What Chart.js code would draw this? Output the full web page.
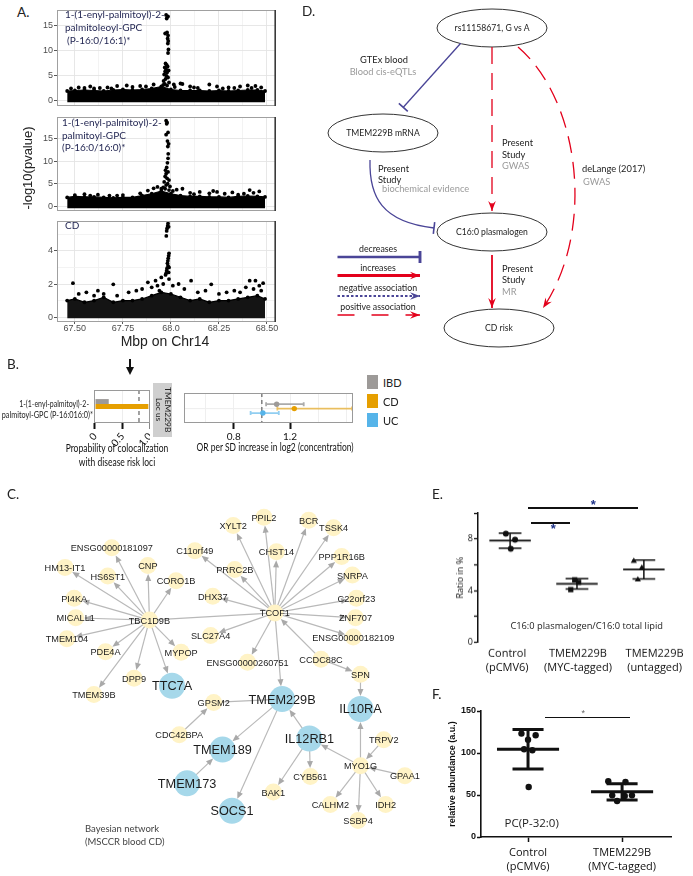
<!DOCTYPE html>
<html>
<head>
<meta charset="utf-8">
<title>TMEM229B / C16:0 plasmalogen</title>
<script src="https://cdn.jsdelivr.net/npm/chart.js@4.4.1/dist/chart.umd.min.js"></script>
<style>
  html, body { margin: 0; padding: 0; background: #fff; }
  #page { position: relative; width: 693px; height: 876px; overflow: hidden; background: #fff; }
  .box { position: absolute; }
  .t { position: absolute; white-space: pre; line-height: 1; }
  .hb { position: absolute; background: #111; }
</style>
</head>
<body>
<div id="page"></div>
<script>
/* ---------- A. regional association on Chr14 ---------- */
const aXMajor  = [67.5, 67.75, 68.0, 68.25, 68.5];
const aXLabels = ['67.50', '67.75', '68.0', '68.25', '68.50'];
const aBandX   = [67.46, 67.50, 67.55, 67.60, 67.65, 67.70, 67.75, 67.80, 67.85, 67.90, 67.95,
                  68.00, 68.05, 68.10, 68.15, 68.20, 68.25, 68.30, 68.35, 68.40, 68.45, 68.49];
// upper edge of the dense band of SNPs
const a1Band = [1.9, 2.0, 2.1, 2.0, 1.9, 2.1, 2.2, 2.1, 2.2, 2.4, 2.8, 2.2, 2.0, 2.0, 2.0, 1.9, 2.0, 1.9, 2.0, 2.1, 2.1, 1.9];
const a2Band = [2.0, 2.2, 2.1, 2.1, 2.0, 1.9, 2.0, 2.0, 2.4, 2.8, 3.4, 2.8, 2.4, 2.2, 2.2, 2.1, 2.1, 2.0, 2.2, 2.3, 2.2, 2.1];
const a3Band = [1.0, 1.1, 0.9, 1.0, 1.2, 0.9, 1.0, 1.0, 1.1, 1.3, 1.5, 1.4, 1.2, 1.0, 1.1, 0.9, 1.0, 1.0, 1.1, 1.2, 1.3, 1.1];
// SNPs standing out of the band
const a1Pts = [
  [67.48,2.4],[67.52,2.6],[67.55,2.5],[67.58,2.8],[67.63,2.5],[67.67,2.6],[67.72,2.9],[67.77,3.0],[67.80,2.7],[67.84,2.9],
  [67.87,2.8],[67.91,3.2],[68.02,2.7],[68.06,3.3],[68.10,2.8],[68.12,2.6],[68.14,2.5],[68.20,3.2],[68.24,2.8],[68.30,2.6],
  [68.33,2.5],[68.36,2.8],[68.40,3.0],[68.44,2.9],[68.47,2.6],[67.60,2.4],[67.69,2.4],[67.96,3.1],[68.27,2.4],[68.42,2.5],
  [67.975,17.1],[67.985,16.8],[67.978,16.4],[67.970,13.4],[67.980,13.6],[67.985,13.0],[67.983,12.4],[67.986,11.9],
  [67.984,11.4],[67.987,10.2],[67.985,9.5],[67.972,7.4],[67.978,7.1],[67.968,6.6],[67.983,6.8],[67.975,6.2],[67.970,5.8],
  [67.980,5.6],[67.988,6.0],[67.965,5.2],[67.977,4.9],[67.985,4.6],[67.972,4.3],[67.962,3.9],[67.990,3.6],[67.968,3.3],
  [67.980,3.0],[68.015,3.2],[68.05,3.4]
];
const a2Pts = [
  [67.50,2.5],[67.55,2.7],[67.62,2.6],[67.68,2.4],[67.75,2.5],[67.84,2.9],[67.88,3.5],[67.91,4.0],[67.93,4.3],[67.95,3.9],
  [68.01,3.4],[68.03,3.7],[68.06,3.9],[68.10,3.0],[68.15,3.2],[68.20,2.9],[68.22,3.4],[68.24,3.2],[68.28,2.8],[68.32,3.1],
  [68.38,2.8],[68.41,3.6],[68.43,3.0],[68.46,3.3],[67.58,2.4],[67.72,2.4],[68.12,2.7],[68.35,2.6],
  [67.975,18.9],[67.980,18.5],[67.978,18.2],[67.985,16.3],[67.975,15.8],[67.982,14.4],[67.988,13.8],[67.984,13.2],
  [67.986,11.6],[67.985,10.6],[67.982,9.6],[67.978,8.6],[67.972,8.0],[67.985,7.6],[67.975,7.2],[67.970,6.6],[67.980,6.2],
  [67.990,5.8],[67.965,5.4],[67.983,5.0],[67.975,4.7],[67.995,4.4],[67.960,4.2],[67.970,3.9],[67.990,3.6]
];
const a3Pts = [
  [67.49,2.05],[67.52,1.4],[67.56,1.5],[67.60,1.3],[67.62,1.6],[67.65,1.4],[67.70,1.98],[67.72,1.3],[67.78,1.5],[67.82,1.6],
  [67.85,1.7],[67.88,2.1],[67.90,1.8],[67.92,2.2],[67.93,1.9],[67.94,1.6],[67.95,2.4],[67.96,2.0],[67.99,2.3],[68.01,1.9],
  [68.04,2.0],[68.07,1.7],[68.105,2.2],[68.14,1.5],[68.18,1.6],[68.21,1.98],[68.25,1.4],[68.29,1.5],[68.33,1.6],[68.36,1.5],
  [68.39,1.8],[68.41,2.2],[68.43,1.7],[68.44,2.2],[68.46,1.9],[68.47,1.6],[68.48,2.05],
  [67.985,5.65],[67.983,5.5],[67.980,5.35],[67.978,5.2],[67.976,4.9],[67.988,5.45],[67.990,3.85],[67.988,3.7],[67.986,3.55],
  [67.984,3.4],[67.982,3.25],[67.985,3.1],[67.980,2.95],[67.978,2.8],[67.975,2.65],[67.972,2.55],[67.988,2.7],[67.990,3.0]
];

/* ---------- B. colocalization and MR ---------- */
const bMetabolite = ['1-(1-enyl-palmitoyl)-2-', 'palmitoyl-GPC (P-16:016:0)*'];
const bGroups = ['IBD', 'CD', 'UC'];
const bColoc  = [0.25, 0.97, 0];
const bOR     = [1.105, 1.23, 1.007];
const bLo     = [1.03, 1.11, 0.92];
const bHi     = [1.297, 1.64, 1.12];

/* ---------- C. Bayesian network ---------- */
const cNames = ['ENSG00000181097','HM13-IT1','HS6ST1','CNP','CORO1B','PI4KA','MICALL1','TBC1D9B','TMEM104','PDE4A',
  'MYPOP','DPP9','TMEM39B','C11orf49','XYLT2','PPIL2','BCR','TSSK4','CHST14','PRRC2B','PPP1R16B','SNRPA','DHX37','TCOF1',
  'C22orf23','ZNF707','SLC27A4','ENSG00000182109','ENSG00000260751','CCDC88C','SPN','GPSM2','CDC42BPA','TRPV2','MYO1G',
  'GPAA1','CYB561','BAK1','CALHM2','IDH2','SSBP4','TTC7A','TMEM229B','IL10RA','IL12RB1','TMEM189','TMEM173','SOCS1'];
const cX = [105,55.3,100.7,143.3,173.3,65,66.7,145,57.3,98.3,
  178.7,128.7,86,193.3,234,266.7,314.3,340.7,280,235.7,349.3,360.7,212.3,278.3,
  365,364,210,361.7,249.3,327.3,369.3,213.3,176.7,394,369.3,
  416.5,316,276.7,337.3,396,366.7,169,286,369.3,315,222.7,185,232.7];
const cY = [539,560,569.3,558,574.3,593.3,614.3,616.7,636.7,650.7,
  651.3,679.3,696.7,542,515,506,509.3,517.3,543.3,562.3,548.3,568.3,591,609,
  593.3,614.3,633.3,635,662,658.7,675,705.3,740,745.3,773.3,
  784,785,801.7,815,815,832.3,687.3,701.7,712.3,744,756,792.3,821.7];
const cBlue = ['TTC7A','TMEM229B','IL10RA','IL12RB1','TMEM189','TMEM173','SOCS1'];
const cArrows = [
  ['TBC1D9B','ENSG00000181097'],['TBC1D9B','HM13-IT1'],['TBC1D9B','HS6ST1'],['TBC1D9B','CNP'],['TBC1D9B','CORO1B'],
  ['TBC1D9B','PI4KA'],['TBC1D9B','MICALL1'],['TBC1D9B','TMEM104'],['TBC1D9B','PDE4A'],['TBC1D9B','MYPOP'],
  ['TBC1D9B','DPP9'],['TBC1D9B','TMEM39B'],['TBC1D9B','TTC7A'],
  ['TCOF1','C11orf49'],['TCOF1','XYLT2'],['TCOF1','PPIL2'],['TCOF1','BCR'],['TCOF1','TSSK4'],['TCOF1','CHST14'],
  ['TCOF1','PRRC2B'],['TCOF1','PPP1R16B'],['TCOF1','SNRPA'],['TCOF1','DHX37'],['TCOF1','C22orf23'],['TCOF1','ZNF707'],
  ['TCOF1','SLC27A4'],['TCOF1','ENSG00000182109'],['TCOF1','ENSG00000260751'],['TCOF1','TMEM229B'],
  ['CCDC88C','TCOF1'],['CCDC88C','SPN'],['SPN','IL10RA'],['CDC42BPA','GPSM2'],['TMEM229B','TMEM189'],
  ['TMEM173','TMEM189'],['TMEM229B','SOCS1'],['IL12RB1','TMEM229B'],['IL12RB1','CYB561'],['IL12RB1','BAK1'],
  ['MYO1G','IL12RB1'],['MYO1G','IL10RA'],['TRPV2','MYO1G'],['GPAA1','MYO1G'],['MYO1G','CALHM2'],['MYO1G','SSBP4'],
  ['MYO1G','IDH2']
];
const cLinks = [['TBC1D9B','TCOF1'],['GPSM2','TMEM229B']];

/* ---------- D. causal diagram ---------- */
const dNodeLabels = ['rs11158671, G vs A', 'TMEM229B mRNA', 'C16:0 plasmalogen', 'CD risk'];
const dNodeX = [492, 383, 492, 499];
const dNodeY = [28, 133, 232, 328];
const dEdges = [
  { kind: 'decrease', line:  [[460.7, 43.3], [403.3, 107.3]] },
  { kind: 'positive', line:  [[492, 47], [492, 211]] },
  { kind: 'positive', curve: [[518, 47], [580, 100], [596, 230], [543, 308]] },
  { kind: 'decrease', curve: [[370, 160], [369, 197], [382, 222], [434, 228]] },
  { kind: 'increase', line:  [[492, 255], [492, 308]] }
];
const dLegend = [
  { label: 'decreases', kind: 'decrease', y: 257 },
  { label: 'increases', kind: 'increase', y: 275.5 },
  { label: 'negative association', kind: 'negative', y: 296 },
  { label: 'positive association', kind: 'positive', y: 315 }
];

/* ---------- E. plasmalogen ratio ---------- */
const eLabels = [['Control', '(pCMV6)'], ['TMEM229B', '(MYC-tagged)'], ['TMEM229B', '(untagged)']];
const eValues = [[8.41, 7.95, 7.25], [4.85, 4.65, 4.09], [6.29, 5.76, 4.85]];

/* ---------- F. PC(P-32:0) abundance ---------- */
const fLabels = [['Control', '(pCMV6)'], ['TMEM229B', '(MYC-tagged)']];
const fValues = [[123.1, 121.1, 115.9, 104.4, 103.2, 59.5], [66.3, 65.5, 49.6, 48.8, 42.9, 49.6]];

/* ---------- styling ---------- */
const ARIAL = "'Liberation Sans', Arial, sans-serif";
const LATO  = "Lato, 'Open Sans', sans-serif";
const OPEN  = "'Open Sans', sans-serif";
const B_COLORS = ['#9d9a98', '#E69F00', '#56B4E9'];
const B_ERR    = ['rgba(150,150,150,0.8)', 'rgba(230,159,0,0.6)', 'rgba(86,180,233,0.65)'];
const B_DODGE  = [1, 0, -1];
const C_YEL = '#fff3c6', C_BLUE = '#a6d8ea', C_EDGE = '#b9b9b9';
const C_R_YEL = 8.5, C_R_BLUE = 13;
const D_BLUE = '#4a4597', D_RED = '#e3001b';
const E_JITTER = [[-0.063, 0.074, 0.01], [-0.034, 0.025, -0.093], [-0.15, -0.03, -0.09]];
const E_LABEL_AT = [-0.044, 1.015, 2.16];   // where the group captions sit on the axis
const E_MARKERS = ['circle', 'rect', 'triangle'];
const E_RADIUS = [3, 3.7, 3.6];
const F_JITTER = [[-0.07, 0.081, 0, -0.042, 0.046, 0.007], [-0.147, 0.036, -0.105, 0.028, -0.053, 0.105]];

Chart.defaults.font.family = ARIAL;
Chart.defaults.color = '#222';

const page = document.getElementById('page');
function box(left, top, w, h) {
  const d = document.createElement('div');
  d.className = 'box';
  d.style.cssText = `left:${left}px;top:${top}px;width:${w}px;height:${h}px;`;
  const c = document.createElement('canvas');
  d.appendChild(c);
  page.appendChild(d);
  return c;
}
function txt(x, y, s, o = {}) {
  const d = document.createElement('div');
  d.className = 't';
  d.textContent = s;
  d.style.left = x + 'px';
  d.style.top = y + 'px';
  d.style.fontSize = (o.size || 10) + 'px';
  d.style.fontFamily = o.family || LATO;
  d.style.color = o.color || '#222';
  if (o.weight) d.style.fontWeight = o.weight;
  page.appendChild(d);
  const ax = o.align === 'left' ? '0' : o.align === 'right' ? '-100%' : '-50%';
  d.style.transformOrigin = o.align === 'left' ? '0 50%' : o.align === 'right' ? '100% 50%' : '50% 50%';
  let tf = `translate(${ax},-50%)`;
  if (o.w) tf += ` scaleX(${(o.w / d.offsetWidth).toFixed(3)})`;
  if (o.rot) tf += ` rotate(${o.rot}deg)`;
  d.style.transform = tf;
  return d;
}
function hbar(x1, x2, y, h, color) {
  const d = document.createElement('div');
  d.className = 'hb';
  d.style.cssText = `left:${x1}px;top:${y - h / 2}px;width:${x2 - x1}px;height:${h}px;background:${color || '#111'}`;
  page.appendChild(d);
}
// fixed axis size, no extra label padding
const fix = size => s => {
  if (s.isHorizontal()) s.height = size; else s.width = size;
  s.paddingLeft = s.paddingRight = s.paddingTop = s.paddingBottom = 0;
};
const near = (a, b) => Math.abs(a - b) < 1e-6;
const base = {
  responsive: true, maintainAspectRatio: false, animation: false, events: [],
  layout: { padding: 0 },
  plugins: { legend: { display: false }, tooltip: { enabled: false } }
};

/* ---------- plugins ---------- */
const framePlugin = {
  id: 'frame',
  afterDatasetsDraw(chart, args, o) {
    if (!o || !o.color) return;
    const { ctx, chartArea: a } = chart;
    ctx.save();
    ctx.strokeStyle = o.color;
    ctx.lineWidth = 1;
    ctx.strokeRect(a.left + 0.5, a.top + 0.5, a.right - a.left - 1, a.bottom - a.top - 1);
    if (o.right) {
      ctx.strokeStyle = o.right;
      ctx.lineWidth = 1.6;
      ctx.beginPath(); ctx.moveTo(a.right - 0.8, a.top); ctx.lineTo(a.right - 0.8, a.bottom); ctx.stroke();
    }
    ctx.restore();
  }
};
const refPlugin = {
  id: 'refLines',
  beforeDatasetsDraw(chart, args, o) {
    if (!o || !o.lines) return;
    const { ctx, chartArea: a } = chart;
    ctx.save();
    o.lines.forEach(l => {
      ctx.strokeStyle = l.color; ctx.lineWidth = l.width || 1; ctx.setLineDash(l.dash || []);
      ctx.beginPath();
      if (l.x !== undefined) {
        const px = chart.scales.x.getPixelForValue(l.x);
        ctx.moveTo(px, a.top); ctx.lineTo(px, a.bottom);
      } else {
        const py = chart.scales.y.getPixelForValue(l.y);
        ctx.moveTo(a.left, py); ctx.lineTo(a.right, py);
      }
      ctx.stroke();
    });
    ctx.restore();
  }
};
const hErrPlugin = {
  id: 'hErr',
  beforeDatasetsDraw(chart) {
    const { ctx } = chart, xs = chart.scales.x, ys = chart.scales.y;
    ctx.save();
    chart.data.datasets.forEach(ds => {
      const y = ys.getPixelForValue(ds.data[0].y);
      const x1 = xs.getPixelForValue(ds.err[0]), x2 = xs.getPixelForValue(ds.err[1]);
      ctx.strokeStyle = ds.errColor; ctx.lineWidth = 1.8;
      ctx.beginPath(); ctx.moveTo(x1, y); ctx.lineTo(x2, y);
      ctx.moveTo(x1, y - 2); ctx.lineTo(x1, y + 2); ctx.moveTo(x2, y - 2); ctx.lineTo(x2, y + 2);
      ctx.stroke();
    });
    ctx.restore();
  }
};
const meanSdPlugin = {
  id: 'meanSd',
  afterDatasetsDraw(chart, args, o) {
    const { ctx } = chart, xs = chart.scales.x, ys = chart.scales.y;
    ctx.save();
    ctx.strokeStyle = '#111';
    chart.data.datasets.forEach((ds, gi) => {
      const v = ds.data.map(p => p.y);
      const m = v.reduce((s, a) => s + a, 0) / v.length;
      const sd = Math.sqrt(v.reduce((s, a) => s + (a - m) * (a - m), 0) / (v.length - 1));
      const X = d => xs.getPixelForValue(gi + d);
      ctx.lineWidth = o.mw;
      ctx.beginPath(); ctx.moveTo(X(-o.halfMean), ys.getPixelForValue(m)); ctx.lineTo(X(o.halfMean), ys.getPixelForValue(m)); ctx.stroke();
      ctx.lineWidth = o.sw;
      ctx.beginPath();
      ctx.moveTo(X(0), ys.getPixelForValue(m - sd)); ctx.lineTo(X(0), ys.getPixelForValue(m + sd));
      [m - sd, m + sd].forEach(e => { ctx.moveTo(X(-o.halfCap), ys.getPixelForValue(e)); ctx.lineTo(X(o.halfCap), ys.getPixelForValue(e)); });
      ctx.stroke();
    });
    ctx.restore();
  }
};
const netPlugin = {
  id: 'net',
  beforeDatasetsDraw(chart) {
    const { ctx } = chart, xs = chart.scales.x, ys = chart.scales.y;
    const P = n => {
      const i = cNames.indexOf(n);
      return [xs.getPixelForValue(cX[i]), ys.getPixelForValue(cY[i]), cBlue.includes(n) ? C_R_BLUE : C_R_YEL];
    };
    ctx.save();
    ctx.strokeStyle = C_EDGE; ctx.fillStyle = '#a9a9a9'; ctx.lineWidth = 1.2;
    const draw = (a, b, head) => {
      const [x1, y1] = P(a), [x2, y2, r2] = P(b);
      const dx = x2 - x1, dy = y2 - y1, L = Math.hypot(dx, dy), ux = dx / L, uy = dy / L;
      const tx = x2 - ux * r2, ty = y2 - uy * r2;
      ctx.beginPath(); ctx.moveTo(x1, y1); ctx.lineTo(head ? tx - ux * 4 : x2, head ? ty - uy * 4 : y2); ctx.stroke();
      if (head) {
        ctx.beginPath(); ctx.moveTo(tx, ty);
        ctx.lineTo(tx - ux * 7 - uy * 3, ty - uy * 7 + ux * 3);
        ctx.lineTo(tx - ux * 7 + uy * 3, ty - uy * 7 - ux * 3);
        ctx.closePath(); ctx.fill();
      }
    };
    cLinks.forEach(e => draw(e[0], e[1], false));
    cArrows.forEach(e => draw(e[0], e[1], true));
    ctx.restore();
  },
  afterDatasetsDraw(chart) {
    const { ctx } = chart, xs = chart.scales.x, ys = chart.scales.y;
    ctx.save();
    ctx.fillStyle = '#1c1c1c'; ctx.textAlign = 'center'; ctx.textBaseline = 'middle';
    cNames.forEach((n, i) => {
      ctx.font = (cBlue.includes(n) ? '12.7px ' : '9.2px ') + ARIAL;
      ctx.fillText(n, xs.getPixelForValue(cX[i]), ys.getPixelForValue(cY[i]) + 1);
    });
    ctx.restore();
  }
};
const D_STYLE = {
  decrease: { color: D_BLUE, width: 1.3, dash: [], end: 'tee' },
  increase: { color: D_RED, width: 1.8, dash: [], end: 'arrow' },
  negative: { color: D_BLUE, width: 1.6, dash: [2.5, 2], end: 'arrow' },
  positive: { color: D_RED, width: 1.3, dash: [17, 9], end: 'arrow' }
};
const D_LEG_W = { decrease: 2.6, increase: 3, negative: 1.8, positive: 1.6 };
const dPlugin = {
  id: 'diagram',
  afterDatasetsDraw(chart) {
    const { ctx } = chart, xs = chart.scales.x, ys = chart.scales.y;
    const X = v => xs.getPixelForValue(v), Y = v => ys.getPixelForValue(v);
    ctx.save();
    ctx.strokeStyle = '#333'; ctx.lineWidth = 1;
    dNodeX.forEach((x, i) => {
      ctx.beginPath(); ctx.ellipse(X(x), Y(dNodeY[i]), 55, 19, 0, 0, Math.PI * 2); ctx.stroke();
    });
    const end = (st, x, y, ang, w) => {
      ctx.setLineDash([]);
      ctx.fillStyle = st.color; ctx.strokeStyle = st.color;
      const c = Math.cos(ang), s = Math.sin(ang);
      if (st.end === 'tee') {
        ctx.lineWidth = w + 0.3;
        ctx.beginPath(); ctx.moveTo(x - s * 6, y + c * 6); ctx.lineTo(x + s * 6, y - c * 6); ctx.stroke();
      } else {
        const L = 10, hw = 3.8, nt = 6.5;
        ctx.beginPath(); ctx.moveTo(x, y);
        ctx.lineTo(x - c * L - s * hw, y - s * L + c * hw);
        ctx.lineTo(x - c * nt, y - s * nt);
        ctx.lineTo(x - c * L + s * hw, y - s * L - c * hw);
        ctx.closePath(); ctx.fill();
      }
    };
    const path = (e, w, dash) => {
      const st = D_STYLE[e.kind];
      ctx.strokeStyle = st.color; ctx.lineWidth = w || st.width; ctx.setLineDash(dash || st.dash);
      ctx.beginPath();
      let ang, ex, ey;
      if (e.curve) {
        const p = e.curve.map(q => [X(q[0]), Y(q[1])]);
        ctx.moveTo(p[0][0], p[0][1]);
        ctx.bezierCurveTo(p[1][0], p[1][1], p[2][0], p[2][1], p[3][0], p[3][1]);
        ang = Math.atan2(p[3][1] - p[2][1], p[3][0] - p[2][0]); ex = p[3][0]; ey = p[3][1];
      } else {
        const p = e.line.map(q => [X(q[0]), Y(q[1])]);
        ctx.moveTo(p[0][0], p[0][1]); ctx.lineTo(p[1][0], p[1][1]);
        ang = Math.atan2(p[1][1] - p[0][1], p[1][0] - p[0][0]); ex = p[1][0]; ey = p[1][1];
      }
      ctx.stroke();
      end(st, ex, ey, ang, w || st.width);
    };
    dEdges.forEach(e => path(e));
    dLegend.forEach(l => path({ kind: l.kind, line: [[337.5, l.y], [420, l.y]] }, D_LEG_W[l.kind], l.kind === 'positive' ? [17, 17] : undefined));
    ctx.restore();
  }
};

/* ---------- A charts ---------- */
const aXGrid = [];
aXMajor.forEach((v, i) => { aXGrid.push(v); if (i < aXMajor.length - 1) aXGrid.push((v + aXMajor[i + 1]) / 2); });
function manhattan(top, h, band, pts, yMajor, ymin, ymax, floor, showX, fillCol) {
  const yGrid = [];
  yMajor.forEach((v, i) => { yGrid.push(v); yGrid.push(v + (yMajor[1] - yMajor[0]) / 2); });
  const yLab = v => yMajor.some(m => near(m, v));
  const xLab = v => aXMajor.findIndex(m => near(m, v));
  new Chart(box(30, top, 250, h + (showX ? 13 : 0)), {
    type: 'scatter',
    data: {
      datasets: [
        { type: 'line', data: aBandX.map((x, i) => ({ x, y: band[i] })), fill: { value: floor },
          backgroundColor: fillCol, borderColor: '#000', borderWidth: 1.2, pointRadius: 1.9,
          pointBackgroundColor: '#000', pointBorderWidth: 0, tension: 0 },
        { data: pts.map(p => ({ x: p[0], y: p[1] })), pointRadius: 1.9, backgroundColor: '#000', borderWidth: 0 }
      ]
    },
    options: {
      ...base,
      plugins: { ...base.plugins, frame: { color: '#a0a0a0', right: '#3a3a3a' } },
      scales: {
        x: {
          type: 'linear', min: 67.407, max: 68.547,
          afterBuildTicks: s => { s.ticks = aXGrid.map(v => ({ value: v })); },
          afterFit: fix(showX ? 13 : 0),
          border: { display: false },
          grid: { color: c => xLab(c.tick.value) >= 0 ? '#e4e4e4' : '#f2f2f2', lineWidth: 0.9,
                  drawTicks: showX, tickLength: 2, tickColor: c => xLab(c.tick.value) >= 0 ? '#444' : 'transparent' },
          ticks: { display: showX, autoSkip: false, maxRotation: 0, padding: 0, color: '#4d4d4d',
                   font: { size: 9, lineHeight: 1 }, callback: v => { const i = xLab(v); return i >= 0 ? aXLabels[i] : ''; } }
        },
        y: {
          min: ymin, max: ymax,
          afterBuildTicks: s => { s.ticks = yGrid.filter(v => v <= ymax).map(v => ({ value: v })); },
          afterFit: fix(27),
          border: { display: false },
          grid: { color: c => yLab(c.tick.value) ? '#e4e4e4' : '#f2f2f2', lineWidth: 0.9,
                  tickLength: 3, tickColor: c => yLab(c.tick.value) ? '#444' : 'transparent' },
          ticks: { padding: 1, color: '#4d4d4d', font: { size: 9 }, callback: v => yLab(v) ? String(v) : '' }
        }
      }
    },
    plugins: [framePlugin]
  });
}
manhattan(6, 104, a1Band, a1Pts, [0, 5, 10, 15], -1.1, 18.1, -0.37, false, '#000');
manhattan(113, 102, a2Band, a2Pts, [0, 5, 10, 15], -1.0, 19.7, -0.4, false, '#000');
manhattan(217, 105, a3Band, a3Pts, [0, 2, 4], -0.29, 5.8, -0.06, true, '#141414');

/* ---------- B charts ---------- */
const bLeftLab = { 0: '0', 0.5: '0.5', 1: '1.0' };
new Chart(box(0, 390, 150, 78), {
  type: 'bar',
  data: {
    labels: [bMetabolite],
    datasets: bGroups.map((g, i) => ({ label: g, data: [bColoc[i]], backgroundColor: B_COLORS[i],
      categoryPercentage: 0.45, barPercentage: 1 }))
  },
  options: {
    ...base, indexAxis: 'y',
    plugins: { ...base.plugins, frame: { color: '#9a9a9a' },
      refLines: { lines: [{ x: 0.8, color: '#444', dash: [4, 3], width: 1 }] } },
    scales: {
      x: {
        min: -0.018, max: 1.0,
        afterBuildTicks: s => { s.ticks = [0, 0.25, 0.5, 0.75, 1].map(v => ({ value: v })); },
        afterFit: fix(45),
        border: { display: false },
        grid: { color: '#ededed', tickLength: 6, tickWidth: 2,
                tickColor: c => bLeftLab[c.tick.value] ? '#111' : 'transparent' },
        ticks: { padding: 1.7, color: '#111', font: { family: LATO, size: 10 }, callback: v => bLeftLab[v] || '' }
      },
      y: { afterFit: fix(94), border: { display: false }, grid: { display: false }, ticks: { display: false } }
    }
  },
  plugins: [refPlugin, framePlugin]
});
const bRightLab = { 0.8: '0.8', 1.2: '1.2' };
new Chart(box(180, 389, 177, 65), {
  type: 'scatter',
  data: {
    datasets: bGroups.map((g, i) => ({ label: g, data: [{ x: bOR[i], y: B_DODGE[i] }], err: [bLo[i], bHi[i]],
      errColor: B_ERR[i], backgroundColor: B_COLORS[i], pointRadius: 2.7, borderWidth: 0 }))
  },
  options: {
    ...base,
    plugins: { ...base.plugins, frame: { color: '#9a9a9a' },
      refLines: { lines: [{ y: 0, color: '#eeeeee' }, { x: 1.0, color: '#444', dash: [4, 3], width: 1 }] } },
    scales: {
      x: {
        min: 0.447, max: 1.647,
        afterBuildTicks: s => { s.ticks = [0.6, 0.8, 1.0, 1.2, 1.4, 1.6].map(v => ({ value: v })); },
        afterFit: fix(31),
        border: { display: false },
        grid: { color: '#efefef', tickLength: 6, tickWidth: 2,
                tickColor: c => bRightLab[c.tick.value] ? '#111' : 'transparent' },
        ticks: { padding: 1.7, color: '#111', font: { family: LATO, size: 10 }, callback: v => bRightLab[v] || '' }
      },
      y: { display: false, min: -3.26, max: 3.54 }
    }
  },
  plugins: [refPlugin, hErrPlugin, framePlugin]
});

/* ---------- C network ---------- */
new Chart(box(0, 480, 440, 370), {
  type: 'scatter',
  data: {
    datasets: [{
      data: cNames.map((n, i) => ({ x: cX[i], y: cY[i] })),
      pointRadius: cNames.map(n => cBlue.includes(n) ? C_R_BLUE : C_R_YEL),
      backgroundColor: cNames.map(n => cBlue.includes(n) ? C_BLUE : C_YEL),
      borderWidth: 0
    }]
  },
  options: { ...base, scales: { x: { display: false, min: 0, max: 440 }, y: { display: false, min: 480, max: 850, reverse: true } } },
  plugins: [netPlugin]
});

/* ---------- D diagram ---------- */
new Chart(box(290, 0, 403, 350), {
  type: 'scatter',
  data: { datasets: [{ data: dNodeX.map((x, i) => ({ x, y: dNodeY[i] })), pointRadius: 0 }] },
  options: { ...base, scales: { x: { display: false, min: 290, max: 693 }, y: { display: false, min: 0, max: 350, reverse: true } } },
  plugins: [dPlugin]
});

/* ---------- E chart ---------- */
new Chart(box(450, 509, 240, 168.7), {
  type: 'scatter',
  data: {
    datasets: eValues.map((vals, gi) => ({
      label: eLabels[gi].join(' '),
      data: vals.map((v, k) => ({ x: gi + E_JITTER[gi][k], y: v })),
      pointStyle: E_MARKERS[gi], pointRadius: E_RADIUS[gi], backgroundColor: '#111', borderWidth: 0
    }))
  },
  options: {
    ...base,
    plugins: { ...base.plugins, meanSd: { halfMean: 0.31, halfCap: 0.17, mw: 1.8, sw: 1.5 } },
    scales: {
      x: {
        min: -0.48, max: 2.63,
        afterBuildTicks: s => { s.ticks = E_LABEL_AT.map(v => ({ value: v })); },
        afterFit: fix(36),
        border: { display: false }, grid: { display: false, drawTicks: false },
        ticks: { padding: 4.3, color: '#111', font: { family: OPEN, size: 11, lineHeight: 1.27 }, callback: (v, i) => eLabels[i] }
      },
      y: {
        min: 0, max: 10,
        afterBuildTicks: s => { s.ticks = [0, 2, 4, 6, 8, 10].map(v => ({ value: v })); },
        afterFit: fix(28),
        border: { display: true, color: '#111', width: 1.5 },
        grid: { drawOnChartArea: false, tickLength: 4, tickWidth: 1.3, tickColor: '#111' },
        ticks: { padding: 1, color: '#111', font: { family: OPEN, size: 9 }, callback: v => (v % 4 === 0 ? String(v) : '') },
        title: { display: true, text: 'Ratio in %', color: '#111', font: { family: OPEN, size: 9 }, padding: { top: 4.6 } }
      }
    }
  },
  plugins: [meanSdPlugin]
});

/* ---------- F chart ---------- */
new Chart(box(440, 705, 235, 172), {
  type: 'scatter',
  data: {
    datasets: fValues.map((vals, gi) => ({
      label: fLabels[gi].join(' '),
      data: vals.map((v, k) => ({ x: gi + F_JITTER[gi][k], y: v })),
      pointRadius: 3.2, backgroundColor: '#111', borderWidth: 0
    }))
  },
  options: {
    ...base,
    layout: { padding: { top: 6 } },
    plugins: { ...base.plugins, meanSd: { halfMean: 0.33, halfCap: 0.165, mw: 3, sw: 3 } },
    scales: {
      x: {
        min: -0.5, max: 1.52,
        afterBuildTicks: s => { s.ticks = [0, 1].map(v => ({ value: v })); },
        afterFit: fix(40),
        border: { display: true, color: '#111', width: 1.6 },
        grid: { drawOnChartArea: false, tickLength: 5, tickWidth: 1.5, tickColor: '#111' },
        ticks: { padding: 4, color: '#111', font: { family: OPEN, size: 11, lineHeight: 1.27 }, callback: v => fLabels[v] }
      },
      y: {
        min: 0, max: 150,
        afterBuildTicks: s => { s.ticks = [0, 50, 100, 150].map(v => ({ value: v })); },
        afterFit: fix(41),
        border: { display: true, color: '#111', width: 1.6 },
        grid: { drawOnChartArea: false, tickLength: 4, tickWidth: 1.5, tickColor: '#111' },
        ticks: { padding: 1, color: '#111', font: { family: ARIAL, size: 9, weight: 'bold' } },
        title: { display: true, text: 'relative abundance (a.u.)', color: '#111',
                 font: { family: ARIAL, size: 9, weight: 'bold' }, padding: { top: 7.3 } }
      }
    }
  },
  plugins: [meanSdPlugin]
});

/* ---------- text ---------- */
const NAVY = '#1f2350';
txt(17, 12.5, 'A.', { align: 'left', size: 13.5 });
txt(65, 14, '1-(1-enyl-palmitoyl)-2-', { align: 'left', size: 10, color: NAVY });
txt(65, 27, 'palmitoleoyl-GPC', { align: 'left', size: 10, color: NAVY });
txt(67, 40, '(P-16:0/16:1)*', { align: 'left', size: 10, color: NAVY });
txt(62, 122, '1-(1-enyl-palmitoyl)-2-', { align: 'left', size: 10, color: NAVY });
txt(62, 135, 'palmitoyl-GPC', { align: 'left', size: 10, color: NAVY });
txt(62, 147, '(P-16:0/16:0)*', { align: 'left', size: 10, color: NAVY });
txt(65, 225, 'CD', { align: 'left', size: 10, color: NAVY });
txt(27, 168, '-log10(pvalue)', { rot: -90, size: 13, family: ARIAL });
txt(165, 341, 'Mbp on Chr14', { size: 14, family: ARIAL });

txt(7, 365, 'B.', { align: 'left', size: 13.5 });
(function arrow() {
  const s = document.createElement('div');
  s.style.cssText = 'position:absolute;left:129px;top:359px;width:2px;height:9px;background:#111';
  const h = document.createElement('div');
  h.style.cssText = 'position:absolute;left:126px;top:367px;width:0;height:0;border-left:4px solid transparent;border-right:4px solid transparent;border-top:8px solid #111';
  page.appendChild(s); page.appendChild(h);
})();
txt(88.5, 402.7, bMetabolite[0], { align: 'right', size: 10, w: 70 });
txt(92.7, 414, bMetabolite[1], { align: 'right', size: 10, w: 91 });
txt(116.7, 448, 'Propability of colocalization', { size: 10.5, w: 103, color: '#111' });
txt(117, 461.7, 'with disease risk loci', { size: 10.5, w: 76, color: '#111' });
txt(275.3, 447, 'OR per SD increase in log2 (concentration)', { size: 10.5, w: 157, color: '#111' });
(function locus() {
  const d = document.createElement('div');
  d.style.cssText = `position:absolute;left:153px;top:383px;width:19px;height:54px;background:#cfcfcf;writing-mode:vertical-rl;display:flex;align-items:center;justify-content:center;text-align:center;font:8.4px/9px ${LATO};color:#222`;
  d.innerHTML = 'TMEM229B<br>Loc us';
  page.appendChild(d);
})();
bGroups.forEach((g, i) => {
  const sq = document.createElement('div');
  sq.style.cssText = `position:absolute;left:367px;top:${375 + i * 19}px;width:11px;height:14px;background:${B_COLORS[i]}`;
  page.appendChild(sq);
  txt(383, 382 + i * 19, g, { align: 'left', size: 11 });
});

txt(7, 495, 'C.', { align: 'left', size: 13.5 });
txt(85, 828.5, 'Bayesian network', { align: 'left', size: 9.5, color: '#444' });
txt(85, 842, '(MSCCR blood CD)', { align: 'left', size: 9.5, color: '#444' });

txt(302, 11.5, 'D.', { align: 'left', size: 13.5 });
dNodeLabels.forEach((s, i) => txt(dNodeX[i], dNodeY[i], s, { size: 8.6 }));
const G = '#9a9a9a';
[
  ['GTEx blood', 384, 60, 'c'], ['Blood cis-eQTLs', 383, 72, 'c', G],
  ['Present', 502, 143, 'l'], ['Study', 502, 154.5, 'l'], ['GWAS', 502, 166, 'l', G],
  ['deLange (2017)', 582, 169, 'l'], ['GWAS', 583, 181.5, 'l', G],
  ['Present', 378, 168.5, 'l'], ['Study', 378, 180, 'l'], ['biochemical evidence', 382, 189, 'l', G],
  ['Present', 502, 268.5, 'l'], ['Study', 502, 280, 'l'], ['MR', 502, 292, 'l', G]
].forEach(t => txt(t[1], t[2], t[0], { align: t[3] === 'l' ? 'left' : 'center', size: 9.3, color: t[4] || '#222' }));
dLegend.forEach(l => txt(378, l.y - 8, l.label, { size: 8.8 }));

txt(432, 495, 'E.', { align: 'left', size: 13.5 });
hbar(528.3, 637.7, 507.7, 2);
hbar(530.7, 570, 522.7, 2);
txt(593.3, 504, '*', { size: 13, color: '#1f3388', family: ARIAL, weight: 'bold' });
txt(553.3, 528, '*', { size: 13, color: '#1f3388', family: ARIAL, weight: 'bold' });
txt(586.7, 626, 'C16:0 plasmalogen/C16:0 total lipid', { size: 9.3, family: OPEN });

txt(432, 695, 'F.', { align: 'left', size: 13.5 });
hbar(545, 630, 717.7, 1.4);
txt(583.3, 713, '*', { size: 9, color: '#666', family: ARIAL });
txt(531.7, 823, 'PC(P-32:0)', { size: 11.5, family: OPEN });
</script>
</body>
</html>
